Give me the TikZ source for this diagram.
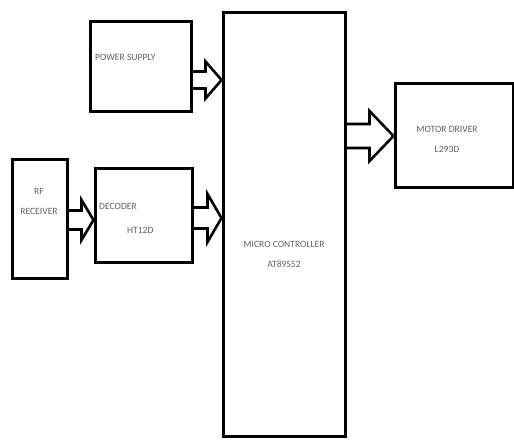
\documentclass[tikz,border=0pt]{standalone}
\usepackage{fontspec}
\setmainfont{Carlito}
\usetikzlibrary{calc}
\tikzset{
  blk/.style={draw=black, line width=3pt, inner sep=0pt},
  lbl/.style={text=black!62, font=\fontsize{9.6}{11}\selectfont, inner sep=0pt, align=center},
  fat/.style={draw=black, line width=2.6pt, line join=miter}
}
% #1 start point, #2 node whose x is the tip, #3 shaft half, #4 head half, #5 head length
\newcommand\fatarrow[5]{%
  \draw[fat] let \p1=(#1), \p2=(#2) in
    (\x1,\y1+#3) -- (\x2-#5,\y1+#3) -- (\x2-#5,\y1+#4) -- (\x2,\y1)
    -- (\x2-#5,\y1-#4) -- (\x2-#5,\y1-#3) -- (\x1,\y1-#3);}
\begin{document}
\begin{tikzpicture}[x=1pt,y=-1pt]
\useasboundingbox (0,0) rectangle (514,440);
\node[blk, minimum width=101pt, minimum height=90pt] (ps) at (140.5,66) {};
\node[blk, minimum width=55pt, minimum height=119pt] (rf) at (39.5,218.5) {};
\node[blk, minimum width=97pt, minimum height=94pt] (dec) at (143.5,215) {};
\node[blk, minimum width=122pt, minimum height=424pt] (mc) at (284,224) {};
\node[blk, minimum width=118pt, minimum height=104pt] (md) at (454,135) {};
% labels
\node[lbl, anchor=west] (pst) at (95,57) {POWER SUPPLY};
\node[lbl] (rft) at (39,201) {RF\\[9pt]RECEIVER};
\node[lbl, anchor=west] (dect1) at (99,206) {DECODER};
\node[lbl, anchor=west] (dect2) at (127,230) {HT12D};
\node[lbl] (mct) at (284,254) {MICRO CONTROLLER\\[9pt]AT89S52};
\node[lbl] (mdt) at (447,139.5) {MOTOR DRIVER\\[9pt]L293D};
% arrows
\coordinate (a1) at ($(ps.east)+(0,14)$);
\coordinate (a2) at ($(rf.east)+(0,1.5)$);
\coordinate (a3) at ($(dec.east)+(0,3)$);
\coordinate (a4) at ($(mc.east)+(0,-88)$);
\fatarrow{a1}{mc.west}{8.5}{18.5}{16}
\fatarrow{a2}{dec.west}{9.5}{20}{12}
\fatarrow{a3}{mc.west}{10.5}{24}{14}
\fatarrow{a4}{md.west}{12}{25}{24}
\end{tikzpicture}
\end{document}
